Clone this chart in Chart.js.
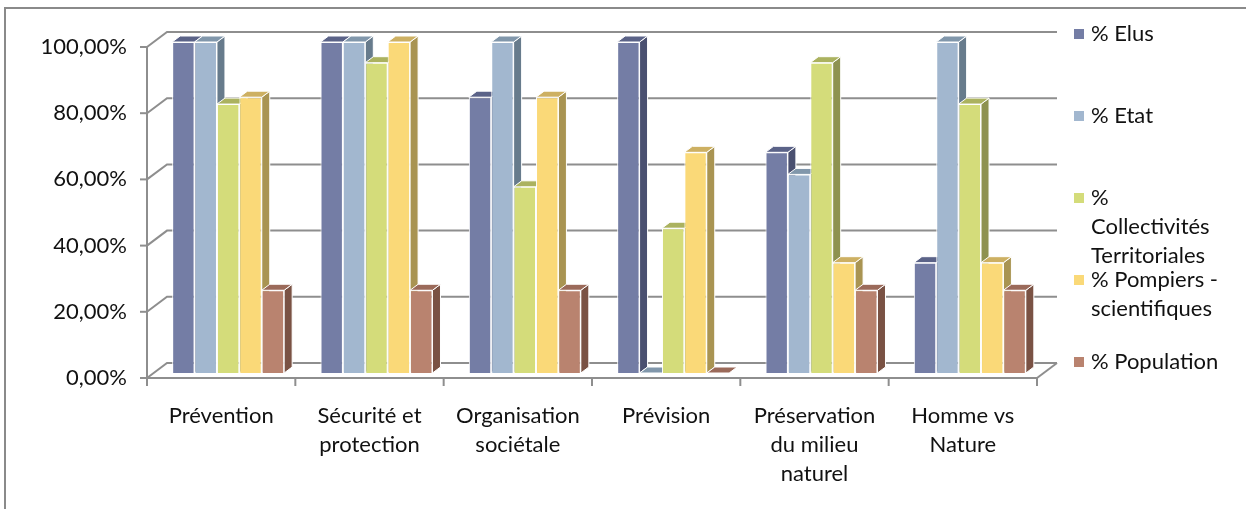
<!DOCTYPE html>
<html><head><meta charset="utf-8">
<script src="https://cdn.jsdelivr.net/npm/chart.js@4/dist/chart.umd.min.js"></script>
<style>html,body{margin:0;padding:0;background:#fff;overflow:hidden}</style>
</head><body>
<canvas id="c" width="1246" height="509"></canvas>
<script>
// ---- data ----
const categories = [['Prévention'], ['Sécurité et', 'protection'], ['Organisation', 'sociétale'], ['Prévision'], ['Préservation', 'du milieu', 'naturel'], ['Homme vs', 'Nature']];
const seriesNames = ['% Elus', '% Etat', '% Collectivités Territoriales', '% Pompiers - scientifiques', '% Population'];
const elus = [100, 100, 83.33, 100, 66.67, 33.33];
const etat = [100, 100, 100, 0, 60, 100];
const collectivites = [81.25, 93.75, 56.25, 43.75, 93.75, 81.25];
const pompiers = [83.33, 100, 83.33, 66.67, 33.33, 33.33];
const population = [25, 25, 25, 0, 25, 25];
const yTickValues = [0, 20, 40, 60, 80, 100];
const yTickLabels = ['0,00%', '20,00%', '40,00%', '60,00%', '80,00%', '100,00%'];

// ---- styles ----
const frontColors = ['#747DA5', '#A2B7CF', '#D4DC7A', '#FAD978', '#B9836F'];
const topColors = ['#5B6388', '#8197AB', '#ABB25F', '#CDB062', '#9B6A5A'];
const sideColors = ['#4A5070', '#677B8C', '#8E9250', '#A99452', '#7A5244'];
const FONT = 'Lato, "Open Sans", sans-serif';
const FSIZE = 22;
const TEXT = '#111';
const GRID = '#8e8e8e';
const FRONT = {dx: -7, dy: 5}, BACK = {dx: 13, dy: -10}, DEPTH = {dx: 8, dy: -6};

const seriesValues = [elus, etat, collectivites, pompiers, population];

function wrapText(ctx, text, maxW) {
  const words = text.split(' ');
  const lines = [];
  let cur = '';
  words.forEach(w => {
    const t = cur ? cur + ' ' + w : w;
    if (cur && ctx.measureText(t).width > maxW) { lines.push(cur); cur = w; } else cur = t;
  });
  if (cur) lines.push(cur);
  return lines;
}

const fake3d = {
  id: 'fake3d',
  beforeDraw(chart) {
    const ctx = chart.ctx;
    ctx.save();
    ctx.fillStyle = '#fff';
    ctx.fillRect(0, 0, chart.width, chart.height);
    ctx.strokeStyle = '#8a8a8a';
    ctx.lineWidth = 2;
    ctx.strokeRect(5, 8, chart.width + 20, chart.height + 20);
    ctx.restore();
  },
  beforeDatasetsDraw(chart) {
    const {ctx, chartArea: a, scales: {y}} = chart;
    ctx.save();
    ctx.strokeStyle = GRID;
    ctx.lineWidth = 2;
    yTickValues.forEach(v => {
      const py = y.getPixelForValue(v);
      ctx.beginPath();
      ctx.moveTo(a.left + FRONT.dx, py + FRONT.dy);
      ctx.lineTo(a.left + BACK.dx, py + BACK.dy);
      ctx.lineTo(a.right + BACK.dx, py + BACK.dy);
      ctx.stroke();
    });
    const p0 = y.getPixelForValue(0);
    ctx.beginPath();
    ctx.moveTo(a.right + FRONT.dx, p0 + FRONT.dy);
    ctx.lineTo(a.right + BACK.dx, p0 + BACK.dy);
    ctx.stroke();
    // bar depth faces
    chart.data.datasets.forEach((ds, i) => {
      const meta = chart.getDatasetMeta(i);
      meta.data.forEach(bar => {
        const p = bar.getProps(['x', 'y', 'base', 'width'], true);
        const l = p.x - p.width / 2, r = p.x + p.width / 2, t = p.y, b = p.base;
        ctx.lineWidth = 1;
        ctx.strokeStyle = '#fff';
        ctx.fillStyle = sideColors[i];
        ctx.beginPath();
        ctx.moveTo(r, t); ctx.lineTo(r + DEPTH.dx, t + DEPTH.dy);
        ctx.lineTo(r + DEPTH.dx, b + DEPTH.dy); ctx.lineTo(r, b); ctx.closePath();
        ctx.fill(); ctx.stroke();
        ctx.fillStyle = topColors[i];
        ctx.beginPath();
        ctx.moveTo(l, t); ctx.lineTo(l + DEPTH.dx, t + DEPTH.dy);
        ctx.lineTo(r + DEPTH.dx, t + DEPTH.dy); ctx.lineTo(r, t); ctx.closePath();
        ctx.fill(); ctx.stroke();
      });
    });
    ctx.restore();
  },
  afterDatasetsDraw(chart) {
    const {ctx, chartArea: a, scales: {x, y}} = chart;
    ctx.save();
    ctx.strokeStyle = GRID;
    ctx.lineWidth = 2;
    const fl = a.left + FRONT.dx, fr = a.right + FRONT.dx;
    const ftop = y.getPixelForValue(100) + FRONT.dy, fbot = y.getPixelForValue(0) + FRONT.dy;
    ctx.beginPath();
    ctx.moveTo(fl, ftop); ctx.lineTo(fl, fbot); ctx.lineTo(fr, fbot);
    ctx.stroke();
    yTickValues.forEach(v => {
      const py = y.getPixelForValue(v) + FRONT.dy;
      ctx.beginPath(); ctx.moveTo(fl - 7, py); ctx.lineTo(fl, py); ctx.stroke();
    });
    for (let k = 0; k <= categories.length; k++) {
      const px = x.getPixelForValue(k - 0.5) + FRONT.dx;
      ctx.beginPath(); ctx.moveTo(px, fbot); ctx.lineTo(px, fbot + 8); ctx.stroke();
    }
    ctx.restore();
  },
  afterDraw(chart) {
    const {ctx, chartArea: a} = chart;
    ctx.save();
    ctx.font = FSIZE + 'px ' + FONT;
    ctx.textBaseline = 'middle';
    ctx.textAlign = 'left';
    const y0 = a.top - 8, y1 = a.bottom - 11;
    const step = (y1 - y0) / (seriesNames.length - 1);
    const mx = a.right + 30;
    chart.data.datasets.forEach((ds, i) => {
      const cy = y0 + i * step;
      ctx.fillStyle = frontColors[i];
      ctx.fillRect(mx, cy - 5, 10, 10);
      ctx.fillStyle = TEXT;
      wrapText(ctx, ds.label, 134).forEach((line, j) => ctx.fillText(line, mx + 17, cy + j * 29));
    });
    ctx.restore();
  }
};

new Chart(document.getElementById('c'), {
  type: 'bar',
  data: {
    labels: categories,
    datasets: seriesNames.map((n, i) => ({
      label: n,
      data: seriesValues[i],
      backgroundColor: frontColors[i],
      borderColor: '#ffffff',
      borderWidth: 1
    }))
  },
  options: {
    responsive: false,
    animation: false,
    devicePixelRatio: 1,
    layout: {padding: {left: 0, right: 202, top: 42, bottom: 0}},
    plugins: {legend: {display: false}, tooltip: {enabled: false}},
    datasets: {bar: {categoryPercentage: 0.755, barPercentage: 1}},
    scales: {
      x: {
        grid: {display: false}, border: {display: false},
        ticks: {font: {family: FONT, size: FSIZE, lineHeight: 1.32}, color: TEXT, maxRotation: 0, minRotation: 0, autoSkip: false, padding: 20, labelOffset: -7},
        afterFit(s) { s.height = 136; }
      },
      y: {
        min: 0, max: 100,
        afterBuildTicks(s) { s.ticks = yTickValues.map(v => ({value: v})); },
        grid: {display: false}, border: {display: false},
        ticks: {font: {family: FONT, size: FSIZE}, color: TEXT, padding: 19, labelOffset: 5, callback: (v, i) => yTickLabels[i]},
        afterFit(s) { s.width = 154; }
      }
    }
  },
  plugins: [fake3d]
});
</script>
</body></html>
